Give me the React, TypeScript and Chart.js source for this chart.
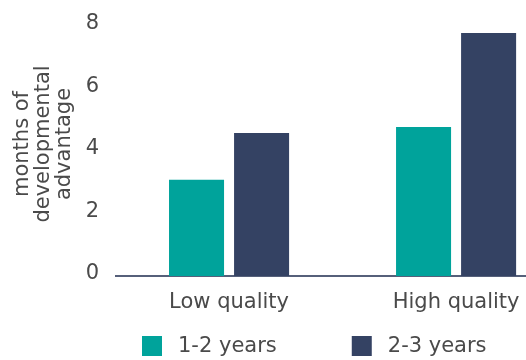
import React, { useEffect, useRef } from "react";
import { Chart, registerables } from "chart.js";

Chart.register(...registerables);

const categories = ["Low quality", "High quality"];
const seriesNames = ["1-2 years", "2-3 years"];
const shortTermValues = [3.07, 4.76];
const longTermValues = [4.57, 7.76];
const yTickValues = [0, 2, 4, 6, 8];
const yTitleLines = ["months of", "developmental", "advantage"];

const TEAL = "#00a39b";
const NAVY = "#344263";
const TEXT = "#4a4a4a";
const FONT = "'DejaVu Sans'";

const legendPlugin = {
  id: "bottomLegend",
  afterDraw(chart: any, _args: any, opts: any) {
    const { ctx } = chart;
    ctx.save();
    ctx.font = `${opts.fontSize}px ${FONT}`;
    ctx.textBaseline = "middle";
    ctx.textAlign = "left";
    let x = opts.startX;
    const y = opts.top;
    chart.data.datasets.forEach((ds: any) => {
      ctx.fillStyle = ds.backgroundColor;
      ctx.fillRect(x, y, opts.box, opts.box);
      ctx.fillStyle = TEXT;
      const tx = x + opts.box + opts.textGap;
      ctx.fillText(ds.label, tx, y + opts.box / 2 + 1);
      x = tx + ctx.measureText(ds.label).width + opts.itemGap;
    });
    ctx.restore();
  },
};

export default function App() {
  const ref = useRef<HTMLCanvasElement>(null);
  useEffect(() => {
    document.body.style.margin = "0";
    const toPoints = (vals: number[]) => vals.map((v, i) => ({ x: i, y: v }));
    const chart = new Chart(ref.current as HTMLCanvasElement, {
      type: "bar",
      data: {
        datasets: [
          { label: seriesNames[0], data: toPoints(shortTermValues), backgroundColor: TEAL },
          { label: seriesNames[1], data: toPoints(longTermValues), backgroundColor: NAVY },
        ],
      },
      plugins: [legendPlugin],
      options: {
        animation: false,
        responsive: false,
        maintainAspectRatio: false,
        layout: { padding: { top: 12, right: 0, bottom: 36, left: 0 } },
        datasets: { bar: { categoryPercentage: 0.573, barPercentage: 0.846 } },
        plugins: {
          legend: { display: false },
          tooltip: { enabled: false },
          bottomLegend: { startX: 142, top: 336, box: 20, textGap: 16, itemGap: 75, fontSize: 21 },
        } as any,
        scales: {
          x: {
            type: "linear",
            offset: false,
            min: -0.498,
            max: 1.308,
            afterBuildTicks: (scale: any) => {
              scale.ticks = categories.map((_, i) => ({ value: i }));
            },
            afterFit: (scale: any) => {
              scale.height = 48;
              scale.paddingLeft = 0;
              scale.paddingRight = 0;
            },
            grid: { display: false, drawTicks: false },
            border: { display: true, color: "#56607a", width: 2 },
            ticks: {
              color: TEXT,
              font: { family: FONT, size: 21 },
              padding: 14,
              maxRotation: 0,
              callback: (v: any) => categories[v] ?? "",
            },
          },
          y: {
            min: 0,
            max: 8.43,
            afterBuildTicks: (scale: any) => {
              scale.ticks = yTickValues.map((v) => ({ value: v }));
            },
            afterFit: (scale: any) => {
              scale.width = 116;
              scale.paddingTop = 0;
              scale.paddingBottom = 0;
            },
            grid: { display: false, drawTicks: true, tickLength: 17 },
            border: { display: false },
            ticks: {
              color: TEXT,
              font: { family: FONT, size: 21 },
              padding: 0,
              labelOffset: -2,
            },
            title: {
              display: true,
              text: yTitleLines,
              color: TEXT,
              font: { family: FONT, size: 21, lineHeight: 1.0 },
              padding: { top: 12, bottom: 4 },
            },
          },
        },
      },
    });
    return () => chart.destroy();
  }, []);
  return (
    <div style={{ width: 526, height: 360 }}>
      <canvas ref={ref} width={526} height={360} />
    </div>
  );
}
